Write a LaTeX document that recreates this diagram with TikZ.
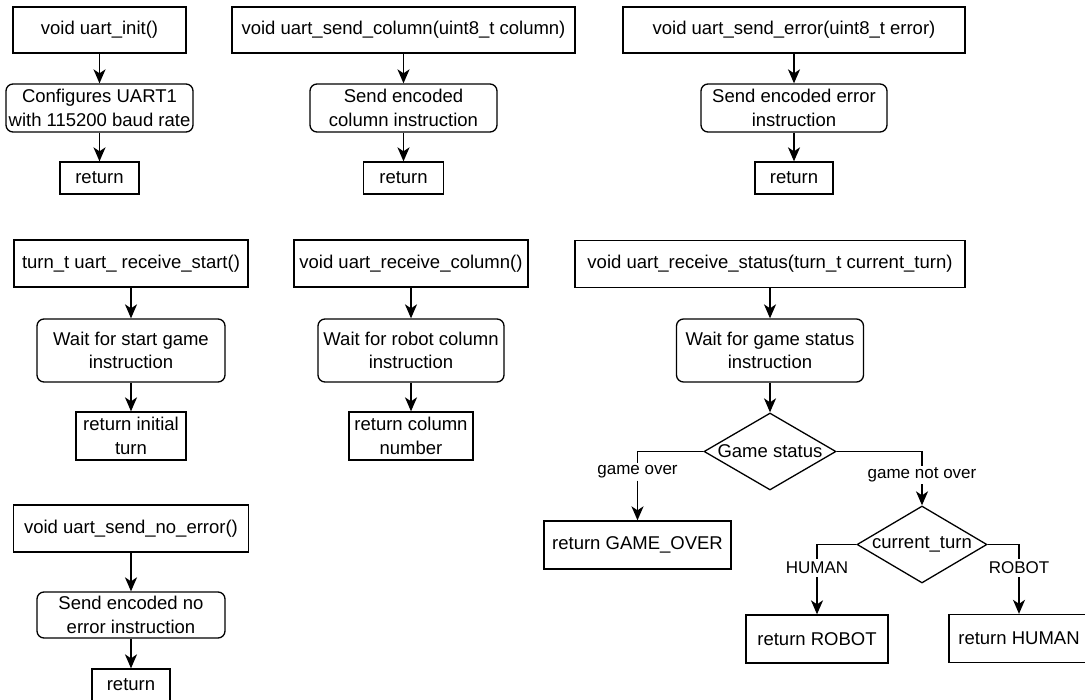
\documentclass[tikz,border=0pt]{standalone}
\usepackage{fontspec}
\setmainfont{Liberation Sans}
\usetikzlibrary{arrows.meta,shapes.geometric}
\newcommand\mainfs{\fontsize{18.5pt}{23.5pt}\selectfont}
\newcommand\lblfs{\fontsize{17pt}{20pt}\selectfont}
\begin{document}
\begin{tikzpicture}[x=1pt,y=-1pt,
  box/.style={draw, line width=1.3pt, inner sep=0pt, align=center, font=\mainfs},
  rbox/.style={box, rounded corners=7pt},
  dec/.style={draw, diamond, line width=1.3pt, inner sep=0pt},
  lbl/.style={inner sep=2pt, font=\lblfs},
  arr/.style={line width=1.6pt, -{Stealth[length=14pt,width=12pt,inset=4pt]}},
  ln/.style={line width=1.6pt}]
\useasboundingbox (0,0) rectangle (1085,700);

% column 1, row 1
\node[box, minimum width=173pt, minimum height=46pt] (a1) at (99.5,30) {void uart\_init()};
\node[rbox, minimum width=187pt, minimum height=48pt] (a2) at (99.5,108) {Configures UART1\\with 115200 baud rate};
\node[box, minimum width=79pt, minimum height=32pt] (a3) at (99.5,178) {return};
\draw[arr] (a1) -- (a2);
\draw[arr] (a2) -- (a3);

% column 2, row 1
\node[box, minimum width=343pt, minimum height=46pt] (b1) at (403.5,30) {void uart\_send\_column(uint8\_t column)};
\node[rbox, minimum width=187pt, minimum height=48pt] (b2) at (403.5,108) {Send encoded\\column instruction};
\node[box, minimum width=80pt, minimum height=32pt] (b3) at (403.5,178) {return};
\draw[arr] (b1) -- (b2);
\draw[arr] (b2) -- (b3);

% column 3, row 1
\node[box, minimum width=342pt, minimum height=46pt] (c1) at (794,30) {void uart\_send\_error(uint8\_t error)};
\node[rbox, minimum width=186pt, minimum height=48pt] (c2) at (794,108) {Send encoded error\\instruction};
\node[box, minimum width=78pt, minimum height=32pt] (c3) at (794,178) {return};
\draw[arr] (c1) -- (c2);
\draw[arr] (c2) -- (c3);

% column 1, row 2
\node[box, minimum width=234pt, minimum height=47pt] (d1) at (131,263.5) {turn\_t uart\_ receive\_start()};
\node[rbox, minimum width=188pt, minimum height=63pt] (d2) at (131,350.5) {Wait for start game\\instruction};
\node[box, minimum width=110pt, minimum height=48pt] (d3) at (131,436) {return initial\\turn};
\draw[arr] (d1) -- (d2);
\draw[arr] (d2) -- (d3);

% column 2, row 2
\node[box, minimum width=234pt, minimum height=47pt] (e1) at (411,263.5) {void uart\_receive\_column()};
\node[rbox, minimum width=186pt, minimum height=63pt] (e2) at (411,350.5) {Wait for robot column\\instruction};
\node[box, minimum width=124pt, minimum height=48pt] (e3) at (411,436) {return column\\number};
\draw[arr] (e1) -- (e2);
\draw[arr] (e2) -- (e3);

% column 3, row 2
\node[box, minimum width=390pt, minimum height=47pt] (f1) at (770,264) {void uart\_receive\_status(turn\_t current\_turn)};
\node[rbox, minimum width=187pt, minimum height=63pt] (f2) at (770,350.5) {Wait for game status\\instruction};
\node[dec, minimum width=132pt, minimum height=77pt] (gs) at (770,451.5) {};
\node[font=\mainfs, inner sep=0pt] (gst) at (gs) {Game status};
\draw[arr] (f1) -- (f2);
\draw[arr] (f2) -- (gs);

\node[box, minimum width=187pt, minimum height=48pt] (go) at (637.5,545) {return GAME\_OVER};
\node[lbl] (lgo) at (637.5,472) {game over};
\draw[ln] (gs.west) -| (lgo.north);
\draw[arr] (lgo.south) -- (go.north);

\node[dec, minimum width=130pt, minimum height=77pt] (ct) at (922,544.5) {};
\node[font=\mainfs, inner sep=0pt] (ctt) at (ct) {current\_turn};
\node[lbl] (lgno) at (922,475) {game not over};
\draw[ln] (gs.east) -| (lgno.north);
\draw[arr] (lgno.south) -- (ct.north);

\node[box, minimum width=142pt, minimum height=48pt] (rr) at (817,639) {return ROBOT};
\node[box, minimum width=140pt, minimum height=48pt] (rh) at (1019,638.5) {return HUMAN};
\node[lbl, inner sep=3pt] (lhu) at (817,568) {HUMAN};
\node[lbl, inner sep=3pt] (lro) at (1019,568) {ROBOT};
\draw[ln] (ct.west) -| (lhu.north);
\draw[arr] (lhu.south) -- (rr.north);
\draw[ln] (ct.east) -| (lro.north);
\draw[arr] (lro.south) -- (rh.north);

% column 1, row 3
\node[box, minimum width=235pt, minimum height=47pt] (g1) at (131,528.5) {void uart\_send\_no\_error()};
\node[rbox, minimum width=188pt, minimum height=46pt] (g2) at (131,615) {Send encoded no\\error instruction};
\node[box, minimum width=78pt, minimum height=32pt] (g3) at (131,685) {return};
\draw[arr] (g1) -- (g2);
\draw[arr] (g2) -- (g3);
\end{tikzpicture}
\end{document}
